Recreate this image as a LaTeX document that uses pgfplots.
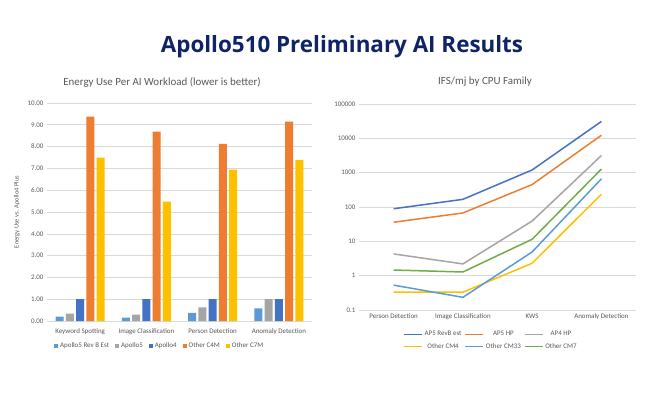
\documentclass[border=0pt]{standalone}
\usepackage{pgfplots}
\pgfplotsset{compat=1.18}
\usepackage{fontspec}
\setmainfont{Carlito}
\newfontfamily\titlefont{Open Sans}

\definecolor{oblue}{HTML}{4472C4}
\definecolor{oorange}{HTML}{ED7D31}
\definecolor{ogray}{HTML}{A5A5A5}
\definecolor{oyellow}{HTML}{FFC000}
\definecolor{olblue}{HTML}{5B9BD5}
\definecolor{ogreen}{HTML}{70AD47}
\definecolor{txtgray}{HTML}{595959}
\definecolor{navy}{HTML}{0E2466}

\pgfplotsset{
  office/.style={
    scale only axis,
    axis line style={draw=none},
    tick style={draw=none},
    ymajorgrids,
    major grid style={color=black!15, line width=0.6bp},
    tick label style={font=\fontsize{7}{8}\selectfont, text=txtgray},
    title style={font=\fontsize{11}{13}\selectfont, text=txtgray},
    label style={font=\fontsize{6.5}{8}\selectfont, text=txtgray},
    legend style={draw=none, fill=none, font=\fontsize{7}{8}\selectfont, text=txtgray},
    /pgf/number format/assume math mode=true,
    xmin=-0.5, xmax=3.5,
    xtick={0,1,2,3},
  }
}

\begin{document}
\begin{tikzpicture}[x=1bp,y=1bp]
\useasboundingbox[fill=white] (0,0) rectangle (650,400);

\node[font=\titlefont\bfseries\fontsize{22.5}{26}\selectfont, text=navy] at (342,353) {Apollo510 Preliminary AI Results};

% left: energy use bar chart
\begin{axis}[
  office,
  at={(47bp,79bp)}, anchor=south west,
  width=265bp, height=218bp,
  ybar=2.3bp, bar width=8bp,
  ymin=0, ymax=10, ytick={0,1,...,10},
  yticklabel style={/pgf/number format/.cd, fixed, fixed zerofill, precision=2},
  xticklabels={Keyword Spotting, Image Classification, Person Detection, Anomaly Detection},
  title={Energy Use Per AI Workload (lower is better)},
  title style={at={(0.434,1.069)}, anchor=center},
  ylabel={Energy Use vs. Apollo4 Plus},
  ylabel style={at={(-0.113,0.5)}, anchor=center},
  legend columns=5,
  legend style={at={(0.015,-0.115)}, anchor=west,
    /tikz/every even column/.append style={column sep=4bp}},
  legend image code/.code={\fill[#1] (0bp,-2bp) rectangle (4bp,2bp);},
]
\addplot[fill=olblue, draw=none] coordinates {(0,0.20) (1,0.15) (2,0.37) (3,0.58)};
\addplot[fill=ogray, draw=none] coordinates {(0,0.34) (1,0.29) (2,0.62) (3,1.00)};
\addplot[fill=oblue, draw=none] coordinates {(0,1.00) (1,1.00) (2,1.00) (3,1.00)};
\addplot[fill=oorange, draw=none] coordinates {(0,9.37) (1,8.69) (2,8.13) (3,9.14)};
\addplot[fill=oyellow, draw=none] coordinates {(0,7.50) (1,5.48) (2,6.94) (3,7.39)};
\legend{Apollo5 Rev B Est, Apollo5, Apollo4, Other C4M, Other C7M}
\end{axis}

% right: IFS/mj line chart
\begin{axis}[
  office,
  at={(359bp,90bp)}, anchor=south west,
  width=277bp, height=206bp,
  ymode=log, ymin=0.1, ymax=100000,
  ytick={0.1,1,10,100,1000,10000,100000},
  yticklabels={0.1,1,10,100,1000,10000,100000},
  xticklabels={Person Detection, Image Classification, KWS, Anomaly Detection},
  title={IFS/mj by CPU Family},
  title style={at={(0.455,1.078)}, anchor=center},
  legend columns=3,
  legend style={at={(0.148,-0.083)}, anchor=north west,
    /tikz/every even column/.append style={column sep=1bp},
    row sep=2bp},
  legend image code/.code={\draw[#1, line width=1.5bp] (0bp,0bp) -- (18bp,0bp);},
  every axis plot/.append style={line width=1.5bp, mark=none},
]
\addplot[oblue] coordinates {(0,89) (1,167) (2,1200) (3,31000)};
\addplot[oorange] coordinates {(0,36) (1,67) (2,450) (3,12300)};
\addplot[ogray] coordinates {(0,4.3) (1,2.2) (2,39) (3,3150)};
\addplot[oyellow] coordinates {(0,0.33) (1,0.33) (2,2.3) (3,235)};
\addplot[olblue] coordinates {(0,0.53) (1,0.234) (2,4.9) (3,660)};
\addplot[ogreen] coordinates {(0,1.46) (1,1.28) (2,11.5) (3,1270)};
\legend{AP5 RevB est, AP5 HP, AP4 HP, Other CM4, Other CM33, Other CM7}
\end{axis}
\end{tikzpicture}
\end{document}
